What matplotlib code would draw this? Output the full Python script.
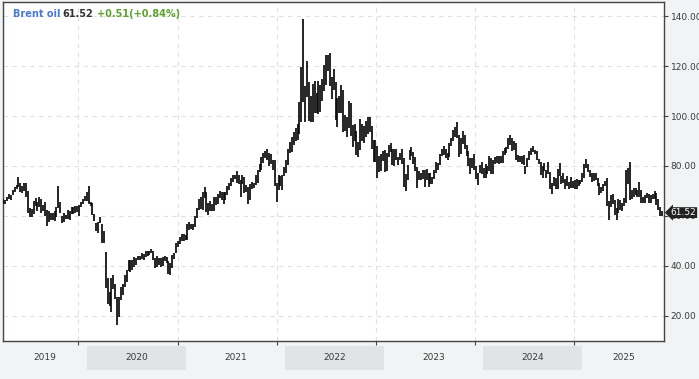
import matplotlib
matplotlib.use("Agg")
import matplotlib.pyplot as plt
import matplotlib.dates as mdates
import matplotlib.transforms as mtransforms
from matplotlib.patches import Rectangle
import pandas as pd

# ---------------- data: weekly low / high of Brent oil ----------------
start_2019 = "2019-02-25"
low_2019 = [64.6, 64.8, 65.8, 66.8, 66.5, 68.5, 69.6, 70.6, 71.7, 69.6, 69.1, 70.0, 67.4, 61.2,
            59.5, 59.5, 60.7, 64.0, 61.9, 63.6, 61.3, 61.9, 60.0, 55.9, 57.6, 58.3, 58.4,
            57.7, 59.5, 63.0, 61.0, 56.9, 57.6, 58.7, 58.7, 58.2, 60.7, 60.6, 61.1, 61.6,
            60.1, 63.5, 64.9, 66.1, 65.9]
high_2019 = [66.9, 66.5, 67.6, 68.7, 68.4, 70.4, 71.5, 72.3, 75.6, 73.2, 72.0, 73.0, 73.1, 69.9,
             63.2, 62.6, 65.8, 67.3, 65.6, 67.5, 66.9, 64.4, 65.4, 62.5, 61.8, 61.0, 61.3,
             62.0, 63.4, 72.0, 65.4, 60.1, 61.2, 60.3, 62.3, 62.0, 63.5, 63.4, 64.1, 64.0,
             64.5, 65.6, 66.7, 68.1, 69.5]

start_2020 = "2020-01-06"
low_2020 = [64.8, 64.0, 60.5, 57.7, 53.8, 53.1, 57.0, 49.1, 49.2, 31.0, 24.5, 24.0, 21.6,
            30.7, 26.5, 16.0, 19.5, 26.4, 28.3, 31.3, 33.4, 37.7, 37.6, 38.1, 39.5, 40.4,
            42.1, 42.3, 42.6, 42.2, 43.4, 44.0, 44.1, 45.2, 42.2, 39.0, 39.4, 40.3, 39.6,
            40.0, 42.0, 40.9, 36.6, 36.3, 39.1, 42.8, 45.1, 47.3, 48.5, 50.0, 49.9, 50.4]
high_2020 = [71.8, 65.5, 65.3, 60.7, 57.2, 57.4, 59.7, 56.5, 53.9, 45.3, 34.9, 29.4, 34.9,
             36.3, 32.8, 27.3, 27.3, 31.4, 32.5, 36.3, 38.4, 42.4, 42.1, 42.4, 43.3, 43.0,
             43.9, 44.0, 44.9, 44.5, 46.0, 45.9, 46.0, 46.5, 46.0, 42.9, 43.7, 42.9, 43.0,
             43.5, 43.8, 43.4, 41.9, 41.2, 44.2, 45.2, 49.1, 49.9, 51.3, 52.5, 52.5, 52.1]

start_2021 = "2021-01-04"
low_2021 = [50.4, 54.1, 54.6, 54.4, 55.6, 59.3, 62.2, 62.8, 62.4, 67.0, 61.7, 60.3, 62.0,
            61.8, 62.1, 64.5, 64.6, 67.3, 66.5, 64.6, 66.4, 68.5, 70.3, 72.1, 73.6, 74.6,
            73.2, 72.6, 67.5, 72.6, 69.2, 69.5, 64.6, 66.5, 70.8, 71.3, 72.4, 73.0, 77.6,
            78.5, 81.2, 83.2, 82.3, 80.1, 80.9, 78.4, 72.1, 65.7, 70.3, 72.0, 70.3, 76.0]
high_2021 = [56.5, 57.4, 56.6, 56.6, 59.8, 63.0, 66.8, 67.7, 69.6, 71.4, 69.7, 65.2, 65.9,
             64.6, 67.5, 67.6, 68.8, 69.8, 69.6, 69.6, 69.6, 72.0, 73.1, 75.0, 76.4, 76.5,
             77.8, 76.3, 74.5, 76.5, 75.5, 72.2, 71.5, 72.8, 73.5, 73.2, 76.4, 78.3, 80.8,
             83.5, 85.1, 86.1, 86.7, 85.3, 84.9, 82.5, 82.5, 73.2, 76.3, 76.1, 76.2, 79.6]

start_2022 = "2022-01-03"
low_2022 = [77.1, 80.3, 85.3, 85.6, 88.5, 90.1, 90.5, 92.9, 97.6, 105.6, 97.4, 107.5, 98.2,
            97.6, 97.6, 101.3, 101.1, 101.0, 101.7, 106.1, 110.1, 112.3, 118.2, 112.2, 107.0,
            110.5, 98.5, 95.5, 101.3, 101.4, 93.5, 94.0, 91.6, 95.0, 91.8, 87.4, 89.9, 84.5,
            83.6, 86.5, 90.0, 89.0, 91.7, 92.9, 93.5, 86.7, 81.6, 81.6, 75.1, 77.7, 78.1, 82.0]
high_2022 = [82.4, 86.7, 89.5, 91.7, 93.7, 95.0, 96.8, 105.8, 119.8, 139.1, 111.9, 122.0, 113.6,
             108.2, 112.7, 113.9, 109.3, 114.0, 112.5, 114.8, 120.6, 124.4, 124.4, 125.2, 115.5,
             118.8, 113.8, 107.4, 108.0, 112.6, 110.6, 100.4, 99.5, 106.0, 105.3, 96.4, 96.6,
             93.8, 89.5, 98.8, 96.9, 96.1, 98.0, 99.6, 99.6, 96.0, 90.2, 90.5, 88.0, 83.8, 84.6, 86.0]

start_2023 = "2023-01-02"
low_2023 = [77.6, 78.0, 83.7, 85.5, 80.5, 80.1, 82.4, 80.4, 82.2, 80.6, 71.4, 70.1, 74.4,
            82.2, 84.0, 80.9, 77.8, 71.3, 74.3, 74.5, 74.8, 71.4, 74.3, 71.6, 72.6, 72.7,
            74.8, 77.3, 78.5, 80.4, 84.1, 84.3, 83.3, 82.2, 83.4, 88.0, 89.8, 91.7, 91.1,
            83.4, 84.6, 88.8, 86.8, 84.1, 79.8, 76.6, 79.0, 78.3, 74.8, 72.3, 77.3, 76.8]
high_2023 = [86.3, 85.3, 88.5, 89.1, 86.8, 86.7, 86.9, 83.7, 85.1, 86.7, 83.1, 76.9, 80.3,
             86.4, 87.5, 85.4, 83.4, 79.7, 77.8, 77.2, 78.4, 78.4, 78.7, 77.2, 77.2, 75.6,
             78.5, 81.7, 81.1, 84.9, 86.6, 88.1, 86.6, 85.1, 89.1, 91.2, 94.4, 95.5, 97.7,
             92.2, 91.2, 93.8, 92.4, 88.2, 86.1, 83.0, 83.1, 84.6, 80.0, 77.3, 80.3, 81.5]

start_2024 = "2024-01-01"
low_2024 = [75.1, 75.3, 76.8, 78.1, 76.6, 76.8, 80.9, 81.1, 80.9, 81.1, 81.3, 84.5, 85.1,
            86.6, 88.4, 86.1, 86.3, 82.4, 81.7, 81.7, 80.6, 80.2, 76.8, 79.4, 82.2, 84.2,
            85.6, 84.7, 82.2, 80.7, 76.3, 75.0, 77.8, 75.1, 76.6, 70.6, 68.7, 71.9, 70.9, 70.9,
            75.9, 72.6, 73.3, 70.8, 72.1, 70.7, 71.3, 71.3, 70.9, 70.6, 72.0, 72.6, 73.4]
high_2024 = [79.2, 80.8, 79.9, 84.1, 83.2, 82.4, 83.5, 83.8, 84.1, 83.8, 86.1, 87.1, 87.6,
             91.1, 92.2, 91.1, 90.0, 89.0, 84.5, 84.1, 84.1, 84.3, 80.1, 83.3, 86.1, 87.0,
             87.9, 86.5, 85.8, 82.8, 81.6, 79.8, 81.2, 78.2, 81.4, 77.4, 73.0, 75.6, 75.0, 78.8,
             81.2, 76.0, 77.1, 74.9, 76.1, 73.6, 75.4, 73.9, 74.4, 74.7, 74.5, 74.4, 77.0]

start_2025 = "2025-01-06"
low_2025 = [75.3, 79.3, 77.6, 75.6, 73.7, 74.0, 74.4, 72.0, 68.3, 69.0, 70.1, 71.9, 64.0,
            58.4, 63.4, 64.9, 60.2, 58.4, 61.0, 62.3, 61.9, 63.8, 65.0, 72.9, 66.3, 66.9,
            67.4, 68.5, 67.7, 67.6, 65.3, 65.0, 65.2, 67.0, 65.1, 65.0, 66.6, 66.7, 64.2,
            62.5, 60.1, 60.0]
high_2025 = [80.8, 82.6, 80.8, 78.3, 77.0, 77.2, 77.0, 75.2, 73.0, 71.6, 72.9, 74.1, 75.3,
             66.1, 68.3, 68.7, 66.3, 63.0, 66.6, 66.4, 65.0, 67.0, 78.5, 79.0, 81.4, 70.5,
             71.0, 71.0, 70.5, 73.6, 70.3, 67.5, 68.3, 69.0, 68.8, 68.4, 68.7, 70.0, 69.2,
             66.8, 63.5, 62.0]

y_ticks = [20, 40, 60, 80, 100, 120, 140]
year_labels = [2019, 2020, 2021, 2022, 2023, 2024, 2025]
shaded_years = [2020, 2022, 2024]
last_price = 61.52
title_name = "Brent oil"
title_price = "61.52"
title_change = "+0.51(+0.84%)"

# ---------------- assemble weekly series ----------------
segments = [(start_2019, low_2019, high_2019), (start_2020, low_2020, high_2020),
            (start_2021, low_2021, high_2021), (start_2022, low_2022, high_2022),
            (start_2023, low_2023, high_2023), (start_2024, low_2024, high_2024),
            (start_2025, low_2025, high_2025)]
frames = []
for st, lo, hi in segments:
    d = pd.date_range(st, periods=len(lo), freq="W-MON") + pd.Timedelta(days=2)
    frames.append(pd.DataFrame({"date": d, "low": lo, "high": hi}))
df = pd.concat(frames, ignore_index=True)

W, H = 699, 379
fig = plt.figure(figsize=(W / 100, H / 100), dpi=100, facecolor="#f2f3f5")
L, R, T, B = 2.7, 664.3, 2.3, 340.7
ax = fig.add_axes([L / W, 1 - B / H, (R - L) / W, (B - T) / H])
ax.set_facecolor("white")

x0, x1 = pd.Timestamp("2019-02-25"), pd.Timestamp("2025-10-30")
ax.set_xlim(x0, x1)
ax.set_ylim(9.9, 145.6)

ax.vlines(df["date"], df["low"], df["high"], colors="#0a0a0a", linewidth=1.25, zorder=3)

# grid
grid_dates = [pd.Timestamp(f"{y}-12-01") for y in range(2019, 2025)]
ax.set_xticks(grid_dates)
ax.set_xticklabels([])
ax.set_yticks(y_ticks)
ax.set_yticklabels([f"{v:.2f}" for v in y_ticks])
ax.yaxis.tick_right()
ax.grid(True, color="#e0e0e0", linestyle=(0, (4, 4)), linewidth=0.8, zorder=0)
ax.tick_params(axis="x", length=3, color="#444444", width=0.8)
ax.tick_params(axis="y", length=3, color="#444444", width=0.8, labelsize=6.5,
               labelcolor="#3a3a3a", pad=1.5)
for s in ax.spines.values():
    s.set_color("#444444")
    s.set_linewidth(1.0)

# year bands under axis
tr = mtransforms.blended_transform_factory(ax.transData, fig.transFigure)
xl0, xl1 = mdates.date2num(x0), mdates.date2num(x1)
for yr in year_labels:
    a = max(mdates.date2num(pd.Timestamp(f"{yr}-01-01")), xl0)
    b = min(mdates.date2num(pd.Timestamp(f"{yr + 1}-01-01")), xl1)
    if yr in shaded_years:
        fig.patches.append(Rectangle((a, 1 - 370 / H), b - a, (370 - 345.6) / H,
                                     transform=tr, facecolor="#e2e3e6", edgecolor="none"))
    fig.text((a + b) / 2, 1 - 357.8 / H, str(yr), transform=tr, ha="center", va="center",
             fontsize=6.5, color="#3a3a3a")

# last price marker
fig.text(670.5 / W, 1 - 212.6 / H, f"{last_price:.2f}", ha="left", va="center", fontsize=6.5,
         color="white", zorder=10,
         bbox=dict(boxstyle="larrow,pad=0.1", facecolor="#222222", edgecolor="none"))

# title
ty = 1 - 17.3 / H
fig.text(12.7 / W, ty, title_name, color="#4a7bd1", fontweight="bold", fontsize=7, va="baseline")
fig.text(62 / W, ty, title_price, color="#333333", fontweight="bold", fontsize=7, va="baseline")
fig.text(97 / W, ty, title_change, color="#5ca130", fontweight="bold", fontsize=7, va="baseline")

fig.savefig("out.png", dpi=100, facecolor=fig.get_facecolor())
